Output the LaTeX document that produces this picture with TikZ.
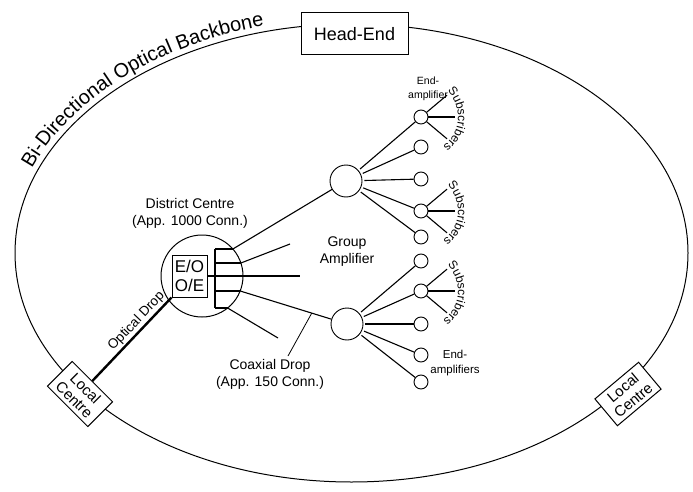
\documentclass[tikz,border=0pt]{standalone}
\usepackage{fontspec}
\setmainfont{Liberation Sans}
\usetikzlibrary{calc,decorations.text}
\tikzset{
  box/.style={rectangle, draw=black, fill=white, line width=1pt, align=center, inner sep=1pt},
  amp/.style={circle, draw=black, fill=white, line width=0.9pt, minimum size=32pt, inner sep=0pt},
  eamp/.style={circle, draw=black, fill=white, line width=0.9pt, minimum size=14pt, inner sep=0pt},
  lbl/.style={align=center, font=\fontsize{14}{17}\selectfont, inner sep=0pt},
  wire/.style={line width=1.1pt},
}
\newcommand{\fan}[1]{%
  \foreach \a in {40,0,-40} \draw[wire] (#1.\a) -- ($(#1)+(\a:34)$);
  \path[decorate, decoration={text along path, text align=center,
    text={|\fontsize{12}{12}\selectfont|Subscribers}}]
    ($(#1)+(47:37)$) arc[start angle=47, end angle=-56, radius=37];
}

\begin{document}
\begin{tikzpicture}[x=1pt,y=1pt]
\useasboundingbox (0,0) rectangle (693,491);
\coordinate (E) at (351.5,238);
\draw[line width=1pt] (E) ellipse[x radius=336.5, y radius=229];
\path[decorate, decoration={text along path, text align=center,
  text={|\fontsize{20}{20}\selectfont|Bi-Directional Optical Backbone}}]
  ($(E)+(160:342.5 and 235)$) arc[start angle=160, end angle=104, x radius=342.5, y radius=235];
\node[box, minimum width=107pt, minimum height=42pt, font=\fontsize{18}{18}\selectfont] (he) at (354.5,457) {Head-End};
\node[box, rotate=-45, minimum width=57pt, minimum height=35pt, font=\fontsize{15}{16}\selectfont] (lc1) at (80,97) {Local\\Centre};
\node[box, rotate=40, minimum width=57pt, minimum height=35pt, font=\fontsize{15}{16}\selectfont] (lc2) at (628,97) {Local\\Centre};
\node[circle, draw=black, line width=1pt, minimum size=82pt, inner sep=0pt] (dc) at (202,215) {};
\node[box, minimum width=35pt, minimum height=42pt, font=\fontsize{17}{19}\selectfont] (eo) at (189.5,215) {E/O\\O/E};
\foreach \i/\y/\x in {1/242/232.9, 2/228/240.9, 3/215/243, 4/200/240.2, 5/183/227.6} {
  \coordinate (b\i) at (215,\y);
  \coordinate (t\i) at (\x,\y);
}
\draw[wire] (b1) -- (b5);
\foreach \i in {1,2,4,5} \draw[wire] (b\i) -- (t\i);
\coordinate (s2) at (290,247);
\coordinate (s3) at (300,215);
\coordinate (s5) at (278,153);
\node[amp] (ga1) at (346,310) {};
\node[amp] (ga2) at (347,167) {};
\draw[wire] (eo.east) -- (s3);
\draw[wire] (t1) -- (ga1);
\draw[wire] (t2) -- (s2);
\draw[wire] (t4) -- (ga2);
\draw[wire] (t5) -- (s5);
\foreach \i/\y in {1/374, 2/344, 3/312, 4/280, 5/254, 6/230, 7/200, 8/167, 9/136, 10/109}
  \node[eamp] (ea\i) at (421,\y) {};
\foreach \i in {1,...,5} \draw[wire, shorten <=2pt] (ga1) -- (ea\i);
\foreach \i in {6,...,10} \draw[wire, shorten <=2pt] (ga2) -- (ea\i);
\fan{ea1}
\fan{ea4}
\fan{ea7}
\draw[line width=2.4pt] (lc1) -- (eo.south west)
  node[sloped, above, pos=0.64, font=\fontsize{13.5}{13.5}\selectfont, inner sep=1.5pt] (odl) {Optical Drop};
\node[lbl] (dcl) at (190,278) {District Centre\\(App. 1000 Conn.)};
\node[lbl] (gal) at (347,239) {Group\\Amplifier};
\node[lbl] (cdl) at (270,117) {Coaxial Drop\\(App. 150 Conn.)};
\coordinate (cdp) at ($(t4)!0.67!(ga2)$);
\coordinate (cdq) at (288,135);
\draw[line width=0.8pt] (cdp) -- (cdq);
\node[lbl, font=\fontsize{10.5}{13.5}\selectfont] (eal1) at (428,402) {End-\\amplifier};
\node[lbl, font=\fontsize{11.5}{15}\selectfont] (eal2) at (455,128) {End-\\amplifiers};
\end{tikzpicture}
\end{document}
